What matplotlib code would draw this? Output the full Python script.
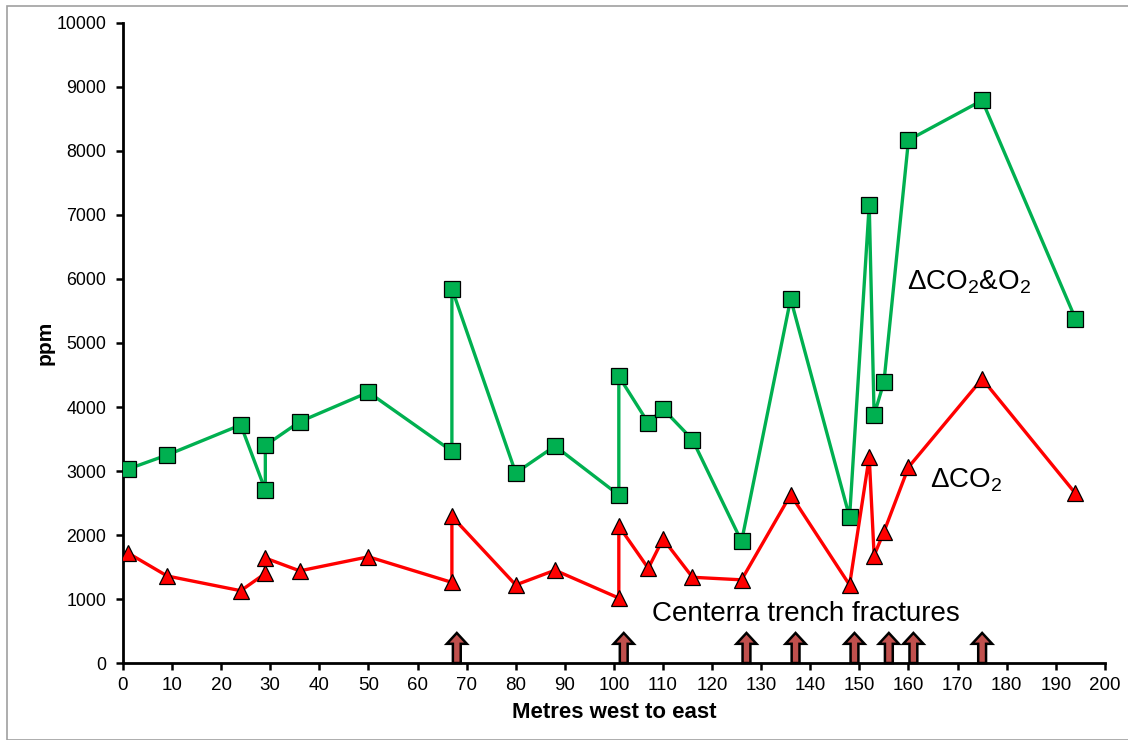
import numpy as np
import matplotlib
matplotlib.use("Agg")
import matplotlib.pyplot as plt
from matplotlib.patches import FancyArrow, Rectangle

plt.rcParams['font.family'] = ['Liberation Sans', 'DejaVu Sans']
plt.rcParams['mathtext.fontset'] = 'custom'
plt.rcParams['mathtext.rm'] = 'Liberation Sans'
plt.rcParams['mathtext.default'] = 'regular'

# distance along the trench (m) and gas readings (ppm)
dist = [1, 9, 24, 29, 29, 36, 50, 67, 67, 80, 88, 101, 101, 107, 110, 116,
        126, 136, 148, 152, 153, 155, 160, 175, 194]
co2_o2 = [3030, 3250, 3720, 2700, 3400, 3770, 4230, 3310, 5850, 2970, 3390,
          2625, 4480, 3750, 3970, 3490, 1900, 5690, 2280, 7160, 3875, 4390,
          8170, 8790, 5380]
co2 = [1720, 1360, 1130, 1400, 1640, 1440, 1660, 1260, 2290, 1220, 1450,
       1015, 2140, 1480, 1940, 1340, 1300, 2630, 1220, 3220, 1680, 2050,
       3060, 4440, 2650]

# fracture locations crossed by the trench
fractures = [68, 102, 127, 137, 149, 156, 161, 175]

xticks = np.arange(0, 201, 10)
yticks = np.arange(0, 10001, 1000)

fig = plt.figure(figsize=(11.28, 7.40), dpi=100)
ax = fig.add_axes([0.109, 0.104, 0.8705, 0.865])

# thin grey frame round the chart area
fig.patches.append(Rectangle((7 / 1128, 0), 1.2, 1 - 6 / 740, transform=fig.transFigure,
                             fill=False, edgecolor='#A0A0A0', linewidth=1.2))

ax.plot(dist, co2_o2, color='#00B050', linewidth=2.4, marker='s', markersize=11,
        markerfacecolor='#00B050', markeredgecolor='black', markeredgewidth=0.9,
        zorder=3)
ax.plot(dist, co2, color='#FF0000', linewidth=2.4, marker='^', markersize=11.5,
        markerfacecolor='#FF0000', markeredgecolor='black', markeredgewidth=0.9,
        zorder=3)

for fx in fractures:
    ax.add_patch(FancyArrow(fx, 0, 0, 470, width=1.6, head_width=4.1, head_length=170,
                            length_includes_head=True, facecolor='#C0504D',
                            edgecolor='black', linewidth=1.8, clip_on=False, zorder=4))

ax.text(107.7, 770, 'Centerra trench fractures', fontsize=20, va='center', ha='left')
ax.text(159.7, 5950, 'ΔCO$_2$&O$_2$', fontsize=20, va='center', ha='left')
ax.text(164.4, 2860, 'ΔCO$_2$', fontsize=20, va='center', ha='left')

ax.set_xlim(0, 200)
ax.set_ylim(0, 10000)
ax.set_xticks(xticks)
ax.set_yticks(yticks)
ax.tick_params(axis='x', labelsize=13.5, length=5, width=1.8, pad=5)
ax.tick_params(axis='y', labelsize=12.8, length=5, width=1.8, pad=7)

for side in ['top', 'right']:
    ax.spines[side].set_visible(False)
for side in ['left', 'bottom']:
    ax.spines[side].set_linewidth(2)

ax.set_xlabel('Metres west to east', fontsize=16, fontweight='bold', labelpad=6)
ax.set_ylabel('ppm', fontsize=15, fontweight='bold', labelpad=1)

fig.savefig('out.png', dpi=100)
